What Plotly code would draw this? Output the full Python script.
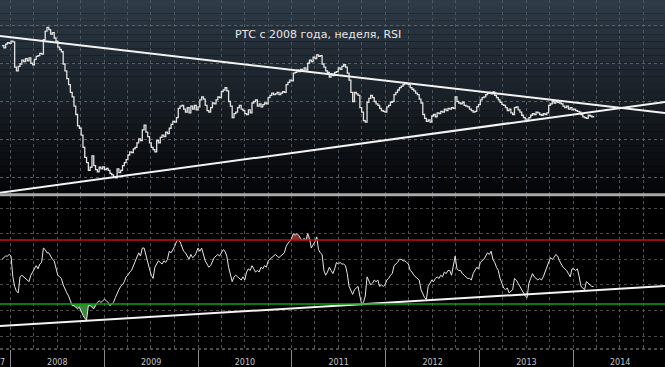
import numpy as np
import pandas as pd
import plotly.graph_objects as go

# ---------------- data ----------------
week_start = "2007-11-30"

close = [
    2230, 2200, 2250, 2270, 2260, 2290, 2280, 1950, 1900, 1960,
    1990, 2040, 2020, 2060, 2030, 2070, 2000, 1980, 2050, 2090,
    2100, 2130, 2120, 2310, 2420, 2470, 2440, 2380, 2400, 2330,
    2290, 2210, 2180, 2150, 1990, 1900, 1800, 1720, 1620, 1560,
    1440, 1330, 1180, 1150, 1060, 900, 770, 700, 600, 640,
    790, 660, 610, 580, 640, 620, 645, 610, 625, 600,
    560, 540, 510, 500, 620, 570, 600, 660, 700, 740,
    800, 840, 830, 880, 900, 960, 1010, 990, 1130, 1190,
    1100, 1040, 960, 900, 870, 840, 990, 960, 1030, 1060,
    1040, 1100, 1080, 1150, 1200, 1240, 1230, 1290, 1410, 1440,
    1450, 1400, 1360, 1420, 1350, 1440, 1400, 1450, 1390, 1430,
    1520, 1560, 1530, 1450, 1380, 1360, 1420, 1480, 1470, 1520,
    1560, 1550, 1630, 1650, 1680, 1640, 1500, 1440, 1290, 1340,
    1360, 1420, 1450, 1400, 1380, 1340, 1330, 1390, 1350, 1480,
    1500, 1520, 1440, 1470, 1430, 1460, 1480, 1470, 1550, 1580,
    1610, 1590, 1600, 1620, 1590, 1610, 1630, 1620, 1720, 1750,
    1780, 1770, 1870, 1880, 1910, 1890, 1920, 1900, 1940, 1910,
    2000, 2040, 2020, 2080, 2060, 2110, 2090, 2100, 1990, 1950,
    1900, 1880, 1820, 1860, 1840, 1880, 1890, 1940, 1920, 1960,
    1980, 1950, 1870, 1780, 1620, 1500, 1620, 1600, 1580, 1420,
    1360, 1250, 1230, 1490, 1540, 1580, 1550, 1500, 1470, 1450,
    1410, 1380, 1370, 1360, 1430, 1450, 1490, 1500, 1590, 1620,
    1650, 1680, 1700, 1720, 1740, 1730, 1720, 1680, 1660, 1640,
    1610, 1590, 1530, 1480, 1330, 1280, 1240, 1260, 1230, 1310,
    1330, 1300, 1350, 1340, 1370, 1360, 1400, 1380, 1410, 1400,
    1420, 1410, 1560, 1500, 1480, 1470, 1490, 1450, 1440, 1430,
    1400, 1380, 1360, 1370, 1430, 1460, 1520, 1550, 1560, 1590,
    1610, 1620, 1600, 1625, 1580, 1550, 1520, 1490, 1460, 1450,
    1420, 1380, 1400, 1350, 1330, 1420, 1430, 1390, 1360, 1320,
    1290, 1270, 1250, 1290, 1320, 1340, 1330, 1360, 1350, 1330,
    1320, 1340, 1330, 1350, 1450, 1470, 1500, 1480, 1500, 1490,
    1480, 1470, 1440, 1420, 1440, 1400, 1420, 1390, 1400, 1380,
    1370, 1360, 1330, 1300, 1290, 1280, 1320, 1310, 1300, 1310,
]

rsi = [
    58, 59, 60, 60, 61, 60, 47, 41, 38, 37,
    47, 48, 47, 46, 45, 44, 48, 50, 52, 54,
    52, 55, 56, 65, 64, 62, 62, 60, 58, 57,
    52, 48, 47, 46, 42, 39, 37, 35, 32, 29,
    29, 28, 27, 28, 25, 23, 21, 20, 29, 29,
    28, 27, 29, 31, 32, 31, 32, 33, 32, 31,
    29, 30, 31, 34, 37, 39, 41, 42, 44, 47,
    48, 50, 51, 54, 56, 59, 62, 60, 65, 65,
    60, 57, 52, 48, 46, 53, 55, 57, 56, 55,
    57, 56, 58, 63, 62, 64, 66, 69, 70, 69,
    66, 63, 62, 60, 58, 61, 59, 60, 62, 65,
    63, 65, 60, 57, 55, 53, 54, 57, 59, 60,
    61, 60, 62, 64, 63, 60, 53, 49, 44, 47,
    48, 47, 46, 45, 47, 45, 50, 52, 51, 54,
    52, 50, 51, 50, 53, 52, 54, 53, 57, 58,
    59, 60, 61, 60, 59, 60, 61, 62, 66, 68,
    69, 71, 74, 73, 74, 73, 71, 70, 71, 70,
    74, 71, 65, 67, 69, 72, 64, 62, 61, 51,
    48, 50, 53, 51, 49, 52, 56, 55, 56, 55,
    55, 54, 49, 41, 38, 36, 39, 40, 41, 35,
    30, 31, 35, 47, 44, 42, 43, 45, 44, 45,
    41, 42, 41, 42, 45, 46, 48, 49, 54, 55,
    56, 58, 58, 57, 57, 56, 55, 51, 50, 48,
    47, 46, 45, 39, 36, 34, 33, 41, 43, 45,
    44, 46, 47, 46, 48, 47, 50, 49, 51, 51,
    48, 53, 60, 52, 51, 51, 49, 48, 47, 46,
    46, 45, 49, 51, 53, 52, 56, 57, 58, 60,
    62, 61, 63, 58, 56, 53, 51, 46, 43, 40,
    39, 40, 37, 38, 39, 46, 45, 43, 41, 39,
    37, 35, 34, 43, 46, 49, 47, 46, 45, 46,
    45, 47, 50, 53, 57, 59, 58, 59, 61, 60,
    57, 55, 53, 52, 51, 49, 47, 52, 52, 51,
    52, 47, 41, 40, 39, 44, 43, 42, 41, 41,
]

trend_dates = ["2007-11-22", "2014-12-24"]
trend_price_upper = [2356, 1350]
trend_price_lower = [305, 1494]
trend_rsi = [16.3, 41.3]

rsi_high = 70
rsi_low = 30

price_grid = [500, 1000, 1500, 2000, 2500]
rsi_grid = [10, 26, 42, 58, 74, 90]

title_text = "РТС с 2008 года, неделя, RSI"
x_range = ["2007-11-22", "2014-12-24"]
price_range = [291, 2827]
rsi_range = [1.9, 98.1]

# ---------------- figure ----------------
dates = pd.date_range(week_start, periods=len(close), freq="7D")
rsi_arr = np.array(rsi, dtype=float)
n = len(rsi)

fig = go.Figure()

# top panel: price
fig.add_trace(go.Scatter(x=dates, y=close, mode="lines", xaxis="x2", yaxis="y",
                         line=dict(color="#e2e2e2", width=1.3, shape="hv"),
                         hoverinfo="skip", showlegend=False))
fig.add_trace(go.Scatter(x=trend_dates, y=trend_price_upper, mode="lines", xaxis="x2", yaxis="y",
                         line=dict(color="#f4f4f4", width=2), showlegend=False))
fig.add_trace(go.Scatter(x=trend_dates, y=trend_price_lower, mode="lines", xaxis="x2", yaxis="y",
                         line=dict(color="#f4f4f4", width=2), showlegend=False))

# bottom panel: RSI fills
fig.add_trace(go.Scatter(x=dates, y=[rsi_low] * n, mode="lines", xaxis="x", yaxis="y2",
                         line=dict(width=0), showlegend=False, hoverinfo="skip"))
fig.add_trace(go.Scatter(x=dates, y=np.minimum(rsi_arr, rsi_low), mode="lines", xaxis="x", yaxis="y2",
                         line=dict(width=0), fill="tonexty", fillcolor="rgba(64,140,64,0.95)",
                         showlegend=False, hoverinfo="skip"))
fig.add_trace(go.Scatter(x=dates, y=[rsi_high] * n, mode="lines", xaxis="x", yaxis="y2",
                         line=dict(width=0), showlegend=False, hoverinfo="skip"))
fig.add_trace(go.Scatter(x=dates, y=np.maximum(rsi_arr, rsi_high), mode="lines", xaxis="x", yaxis="y2",
                         line=dict(width=0), fill="tonexty", fillcolor="rgba(145,50,50,0.95)",
                         showlegend=False, hoverinfo="skip"))
fig.add_trace(go.Scatter(x=dates, y=rsi, mode="lines", xaxis="x", yaxis="y2",
                         line=dict(color="#e6e6e6", width=1), showlegend=False))
fig.add_trace(go.Scatter(x=trend_dates, y=trend_rsi, mode="lines", xaxis="x", yaxis="y2",
                         line=dict(color="#f4f4f4", width=2), showlegend=False))

shapes = []
# gradient background for top panel
top_y0, top_y1 = 0.4443, 1.0
nb = 28
c_top = np.array([46, 58, 70])
c_bot = np.array([5, 6, 8])
for i in range(nb):
    f = i / (nb - 1)
    c = (c_top * (1 - f) + c_bot * f).astype(int)
    y1 = top_y1 - (top_y1 - top_y0) * i / nb
    y0 = top_y1 - (top_y1 - top_y0) * (i + 1) / nb
    shapes.append(dict(type="rect", xref="paper", yref="paper", x0=0, x1=1, y0=y0, y1=y1,
                       fillcolor=f"rgb({c[0]},{c[1]},{c[2]})", line=dict(width=0), layer="below"))

# RSI level lines
shapes.append(dict(type="line", xref="paper", yref="y2", x0=0, x1=1, y0=rsi_high, y1=rsi_high,
                   line=dict(color="#c81010", width=1.5)))
shapes.append(dict(type="line", xref="paper", yref="y2", x0=0, x1=1, y0=rsi_low, y1=rsi_low,
                   line=dict(color="#10a010", width=1.5)))
# separator between panels
shapes.append(dict(type="line", xref="paper", yref="paper", x0=0, x1=1, y0=top_y0 - 0.002, y1=top_y0 - 0.002,
                   line=dict(color="#a8a8a8", width=3)))
# bottom dotted border
shapes.append(dict(type="line", xref="paper", yref="paper", x0=0, x1=1, y0=0, y1=0,
                   line=dict(color="#9a9a9a", width=1, dash="dot")))

grid_col = "#4d555e"
xcommon = dict(type="date", range=x_range, showgrid=True, gridcolor=grid_col, griddash="dot",
               gridwidth=1, dtick="M12", tick0="2008-01-01", zeroline=False, showline=False,
               minor=dict(dtick="M3", tick0="2008-01-01", showgrid=True, gridcolor=grid_col,
                          griddash="dot", gridwidth=1))

fig.update_layout(
    width=665, height=367,
    margin=dict(l=0, r=0, t=0, b=18, pad=0),
    paper_bgcolor="#000000", plot_bgcolor="rgba(0,0,0,0)",
    showlegend=False,
    font=dict(family="DejaVu Sans", color="#c8c8c8"),
    xaxis=dict(**xcommon, anchor="y2", domain=[0, 1], ticklabelmode="period",
               ticks="outside", ticklen=17, tickcolor="#8a8a8a", tickwidth=1,
               ticklabelstandoff=-12,
               tickformat="%Y", tickfont=dict(size=8, color="#c4c4c4")),
    xaxis2=dict(**xcommon, anchor="y", domain=[0, 1], matches="x", showticklabels=False, ticks=""),
    yaxis=dict(domain=[top_y0, 1.0], range=price_range, anchor="x2", tickvals=price_grid,
               showticklabels=False, showgrid=True, gridcolor="#56606a", griddash="dot",
               zeroline=False, ticks=""),
    yaxis2=dict(domain=[0, 0.441], range=rsi_range, anchor="x", tickvals=rsi_grid,
                showticklabels=False, showgrid=True, gridcolor="#4a4a4a", griddash="dot",
                zeroline=False, ticks=""),
    shapes=shapes,
    annotations=[
        dict(text=title_text, xref="paper", yref="paper", x=0.478, y=1 - 34 / 349,
             xanchor="center", yanchor="middle", showarrow=False,
             font=dict(family="DejaVu Sans", size=11, color="#e8e8e8")),
        dict(text="7", xref="paper", yref="paper", x=0, y=-13 / 349, xanchor="left",
             yanchor="middle", showarrow=False, xshift=-2,
             font=dict(family="DejaVu Sans", size=8, color="#c4c4c4")),
    ],
)

fig.write_html("out.html", config={"displayModeBar": False},
               post_script="document.body.style.margin='0';document.body.style.background='#000';")
